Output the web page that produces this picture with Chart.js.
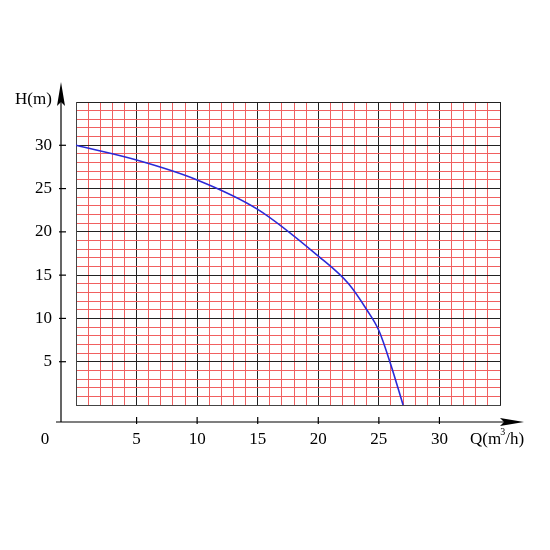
<!DOCTYPE html>
<html>
<head>
<meta charset="utf-8">
<script src="https://cdn.jsdelivr.net/npm/chart.js@4"></script>
<style>body{margin:0;background:#fff}</style>
</head>
<body>
<canvas id="myChart" width="550" height="550"></canvas>
<script>
const flowQ = [0, 5, 10, 15, 20, 22.5, 24, 25, 26, 27];
const headH = [30, 28.3, 26, 22.6, 17.2, 14, 11, 8.6, 4.6, 0];
const tickLabels = [5, 10, 15, 20, 25, 30];
const gridSteps = Array.from({ length: 36 }, (_, i) => i);

const gridColor = (ctx) =>
  Math.round(ctx.tick.value) % 5 === 0 ? "#222" : "#f06060";
const setTicks = (axis) => {
  axis.ticks = gridSteps.map((v) => ({ value: v }));
};

// axis lines with arrows, drawn outside the chart area
const axesPlugin = {
  id: "arrowAxes",
  afterDraw(chart) {
    const c = chart.ctx;
    const xs = chart.scales.x;
    const ys = chart.scales.y;
    const axisY = 422;
    const axisX = 61;
    c.save();
    c.strokeStyle = "#000";
    c.fillStyle = "#000";
    c.lineWidth = 1.2;
    c.beginPath();
    c.moveTo(axisX - 5, axisY);
    c.lineTo(512, axisY);
    c.moveTo(axisX, axisY);
    c.lineTo(axisX, 95);
    c.stroke();
    c.beginPath();
    c.moveTo(524, axisY);
    c.lineTo(500, axisY - 4);
    c.lineTo(504, axisY);
    c.lineTo(500, axisY + 4);
    c.closePath();
    c.fill();
    c.beginPath();
    c.moveTo(axisX, 82);
    c.lineTo(axisX - 4, 106);
    c.lineTo(axisX, 102);
    c.lineTo(axisX + 4, 106);
    c.closePath();
    c.fill();

    c.font = "17px 'Liberation Serif'";
    c.textBaseline = "middle";
    c.textAlign = "center";
    tickLabels.forEach((v) => {
      const px = xs.getPixelForValue(v);
      c.beginPath();
      c.moveTo(px, axisY - 5);
      c.lineTo(px, axisY + 2);
      c.stroke();
      c.fillText(String(v), px, 440);
      const py = ys.getPixelForValue(v);
      c.beginPath();
      c.moveTo(axisX - 2, py);
      c.lineTo(axisX + 5, py);
      c.stroke();
    });
    c.fillText("0", 45, 440);
    c.textAlign = "right";
    tickLabels.forEach((v) => {
      c.fillText(String(v), 52, ys.getPixelForValue(v));
    });
    c.textAlign = "left";
    c.fillText("H(m)", 15, 100);
    const pre = "Q(m";
    c.fillText(pre, 470, 440);
    const w = c.measureText(pre).width;
    c.fillText("/h)", 470 + w + 4, 440);
    c.font = "10px 'Liberation Serif'";
    c.fillText("3", 470 + w - 1, 432);
    c.restore();
  },
};

new Chart(document.getElementById("myChart").getContext("2d"), {
  type: "line",
  data: {
    datasets: [
      {
        data: flowQ.map((q, i) => ({ x: q, y: headH[i] })),
        borderColor: "#2a2ad8",
        borderWidth: 1.6,
        pointRadius: 0,
        cubicInterpolationMode: "monotone",
      },
    ],
  },
  options: {
    responsive: false,
    animation: false,
    layout: { padding: { left: 76, right: 50, top: 102, bottom: 145 } },
    plugins: { legend: { display: false }, tooltip: { enabled: false } },
    scales: {
      x: {
        type: "linear",
        min: 0,
        max: 35,
        afterBuildTicks: setTicks,
        ticks: { display: false },
        grid: { color: gridColor, lineWidth: 1, drawTicks: false },
        border: { display: true, color: "#444" },
      },
      y: {
        min: 0,
        max: 35,
        afterBuildTicks: setTicks,
        ticks: { display: false },
        grid: { color: gridColor, lineWidth: 1, drawTicks: false },
        border: { display: true, color: "#444" },
      },
    },
  },
  plugins: [axesPlugin],
});
</script>
</body>
</html>
